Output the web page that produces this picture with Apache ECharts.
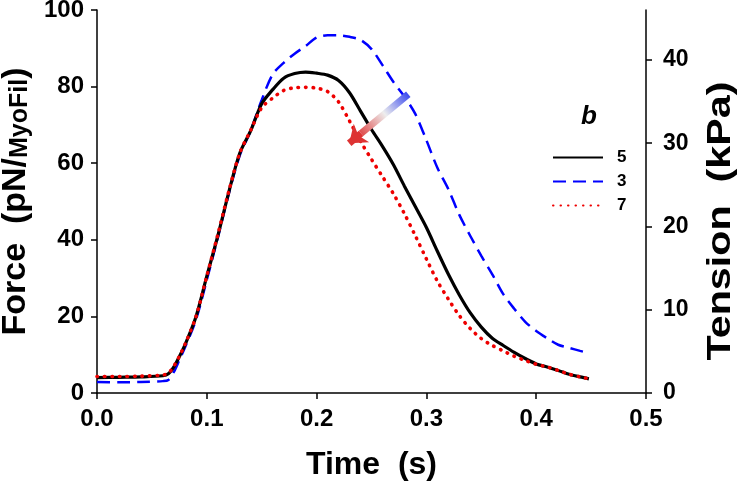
<!DOCTYPE html>
<html>
<head>
<meta charset="utf-8">
<script src="https://cdn.jsdelivr.net/npm/echarts@6/dist/echarts.min.js"></script>
<style>html,body{margin:0;padding:0;background:#fff}#c{width:742px;height:482px}</style>
</head>
<body>
<div id="c"></div>
<script>
// ---- data (Time in s, Force in pN/MyoFil) ----
var time = [0, 0.02, 0.04, 0.06, 0.065, 0.07, 0.075, 0.08, 0.09, 0.10, 0.11, 0.12, 0.13, 0.14, 0.15, 0.16, 0.17, 0.18, 0.19, 0.20, 0.21, 0.22, 0.23, 0.24, 0.25, 0.26, 0.27, 0.28, 0.29, 0.30, 0.31, 0.32, 0.33, 0.34, 0.35, 0.36, 0.37, 0.38, 0.39, 0.40, 0.41, 0.42, 0.43, 0.44, 0.448];
var forceB5 = [4.0, 4.1, 4.2, 4.5, 5.0, 6.8, 9.5, 12.5, 19.8, 30.5, 41.0, 52.4, 62.6, 68.5, 75.5, 79.2, 82.2, 83.4, 83.8, 83.5, 83.0, 81.6, 78.4, 73.6, 68.8, 64.4, 59.6, 54.0, 48.6, 43.2, 37.0, 31.0, 25.6, 20.9, 17.2, 14.3, 12.4, 10.6, 9.0, 7.6, 6.8, 5.9, 4.9, 4.2, 3.7];
var forceB3 = [2.9, 2.8, 2.9, 3.1, 3.4, 5.5, 8.6, 11.8, 19.0, 29.5, 40.5, 52.0, 62.0, 68.5, 76.5, 83.2, 86.2, 88.6, 90.6, 92.8, 93.4, 93.4, 93.0, 92.2, 89.8, 85.6, 81.2, 77.4, 72.8, 66.0, 58.8, 53.2, 46.5, 41.0, 35.8, 31.0, 25.8, 22.0, 18.6, 16.2, 14.3, 12.6, 11.8, 11.0, 10.4];
var forceB7 = [4.3, 4.3, 4.4, 4.7, 5.2, 7.0, 9.6, 12.6, 19.8, 30.5, 41.3, 52.6, 62.6, 68.6, 74.5, 77.0, 79.0, 79.7, 79.8, 79.6, 78.7, 76.0, 71.0, 65.7, 61.0, 56.5, 52.0, 46.8, 41.0, 35.0, 29.2, 24.5, 20.2, 16.8, 14.2, 12.4, 11.0, 9.6, 8.5, 7.5, 6.8, 5.9, 4.9, 4.2, 3.7];
var seriesNames = ['5', '3', '7'];
var xTicks = [0, 0.1, 0.2, 0.3, 0.4, 0.5];
var forceTicks = [0, 20, 40, 60, 80, 100];
var tensionTicks = [0, 10, 20, 30, 40];
var tensionMax = 46;
// arrow annotation (data coordinates): from blue end to red tip
var arrowFrom = [0.2835, 78.0];
var arrowMid = [0.2405, 67.8];
var arrowTo = [0.2297, 65.2];

function pairs(xs, ys) { return xs.map(function (x, i) { return [x, ys[i]]; }); }

var FONT = '"Liberation Sans", Arial, sans-serif';
var chart = echarts.init(document.getElementById('c'), null, { renderer: 'canvas' });
var axisLineStyle = { color: '#000', width: 1.5 };
chart.setOption({
  animation: false,
  backgroundColor: '#fff',
  grid: { left: 97, right: 96, top: 10, bottom: 89, containLabel: false, outerBoundsMode: 'none' },
  title: {
    text: 'b', left: 581, top: 104, padding: 0,
    textStyle: { fontFamily: FONT, fontSize: 26, fontWeight: 'bold', fontStyle: 'italic', color: '#000' }
  },
  legend: {
    orient: 'vertical', left: 552, top: 149, padding: 0,
    itemWidth: 50, itemHeight: 14, itemGap: 7,
    itemStyle: { opacity: 0 },
    data: seriesNames,
    textStyle: { fontFamily: FONT, fontSize: 17, fontWeight: 'bold', color: '#000', padding: [0, 0, 0, 9] }
  },
  xAxis: {
    type: 'value', min: 0, max: 0.5, interval: 0.1,
    name: 'Time  (s)', nameLocation: 'middle', nameGap: 56,
    nameTextStyle: { fontFamily: FONT, fontSize: 32, fontWeight: 'bold', color: '#000' },
    axisLine: { onZero: false, lineStyle: axisLineStyle },
    axisTick: { show: true, length: 6, inside: false, lineStyle: axisLineStyle },
    axisLabel: { margin: 14, fontFamily: FONT, fontSize: 24, fontWeight: 'bold', color: '#000',
      formatter: function (v) { return v.toFixed(1); } },
    splitLine: { show: false }
  },
  yAxis: [{
    type: 'value', min: 0, max: 100, interval: 20, position: 'left',
    name: '{a|Force  (pN/}{b|MyoFil}{a|)}', nameLocation: 'middle', nameGap: 53, nameRotate: 90,
    nameTextStyle: {
      rich: {
        a: { fontFamily: FONT, fontSize: 34, fontWeight: 'bold', color: '#000', verticalAlign: 'bottom', lineHeight: 38 },
        b: { fontFamily: FONT, fontSize: 25, fontWeight: 'bold', color: '#000', verticalAlign: 'bottom', lineHeight: 34 }
      }
    },
    axisLine: { show: true, onZero: false, lineStyle: axisLineStyle },
    axisTick: { show: true, length: 6, inside: false, lineStyle: axisLineStyle },
    axisLabel: { margin: 13, fontFamily: FONT, fontSize: 24, fontWeight: 'bold', color: '#000' },
    splitLine: { show: false }
  }, {
    type: 'value', min: 0, max: tensionMax, position: 'right',
    axisLine: { show: true, onZero: false, lineStyle: axisLineStyle },
    axisTick: { show: true, length: 6, inside: false, lineStyle: axisLineStyle, customValues: tensionTicks },
    axisLabel: { margin: 17, fontFamily: FONT, fontSize: 23, fontWeight: 'bold', color: '#000', customValues: tensionTicks },
    splitLine: { show: false }
  }],
  graphic: [{
    type: 'text', x: 721, y: 221, rotation: Math.PI / 2, scaleX: 1.25,
    style: { text: 'Tension  (kPa)', fontFamily: FONT, fontSize: 33, fontWeight: 'bold', fill: '#000', align: 'center', verticalAlign: 'middle' }
  }],
  series: [{
    name: seriesNames[0], type: 'line', data: pairs(time, forceB5), showSymbol: false, symbol: 'none', smooth: 0.3,
    lineStyle: { color: '#000', width: 3.2 }, itemStyle: { color: '#000' }, z: 3,
    markLine: {
      silent: true, animation: false, label: { show: false },
      data: [
        [{ coord: arrowFrom, symbol: 'none' }, { coord: arrowMid, symbol: 'none',
          lineStyle: { width: 7, type: 'solid', cap: 'butt',
            color: new echarts.graphic.LinearGradient(1, 0, 0, 1, [
              { offset: 0, color: '#2233ee' }, { offset: 0.5, color: '#eeeeee' }, { offset: 1, color: '#dd3333' }]) } }],
        [{ coord: arrowMid, symbol: 'none' }, { coord: arrowTo, symbol: 'arrow', symbolSize: [18, 16],
          lineStyle: { width: 7, type: 'solid', color: '#dd3333' } }]
      ]
    }
  }, {
    name: seriesNames[1], type: 'line', data: pairs(time, forceB3), showSymbol: false, symbol: 'none', smooth: 0.3,
    lineStyle: { color: '#0000ff', width: 2.5, type: [13, 7] }, itemStyle: { color: '#0000ff' }, z: 2
  }, {
    name: seriesNames[2], type: 'line', data: pairs(time, forceB7), showSymbol: false, symbol: 'none', smooth: 0.3,
    lineStyle: { color: '#ee0000', width: 3.6, type: [0.5, 7], cap: 'round' }, itemStyle: { color: '#ee0000' }, z: 4
  }]
});
</script>
</body>
</html>
